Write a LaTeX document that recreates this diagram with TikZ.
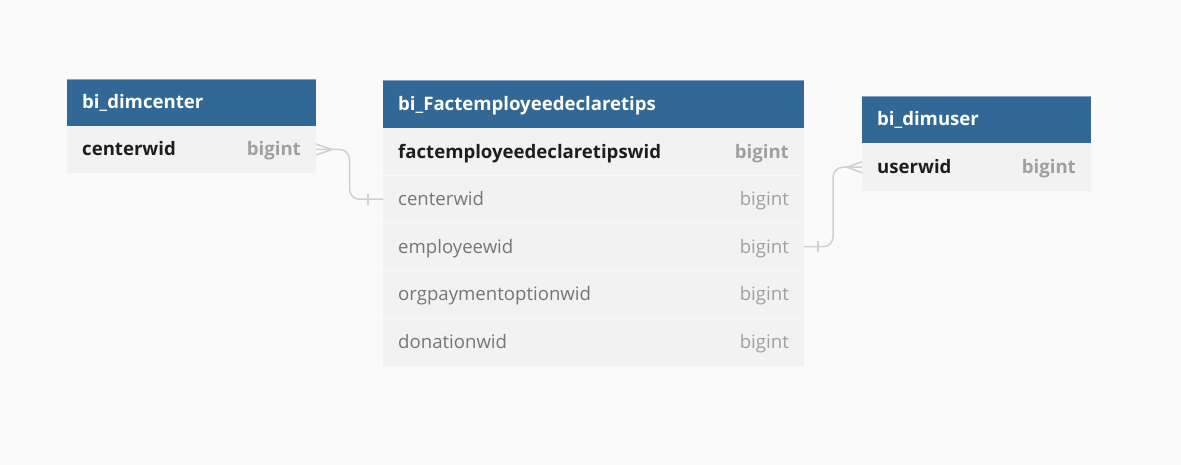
\documentclass[tikz,border=0pt]{standalone}
\usepackage{fontspec}
\setmainfont{Open Sans}
\usetikzlibrary{calc}
\definecolor{bg}{RGB}{250,250,250}
\definecolor{hdrblue}{RGB}{49,104,150}
\definecolor{hdrtop}{RGB}{125,162,196}
\definecolor{rowbg}{RGB}{242,242,242}
\definecolor{rowsep}{RGB}{248,248,248}
\definecolor{keytxt}{RGB}{30,30,30}
\definecolor{fldtxt}{RGB}{118,118,118}
\definecolor{typtxt}{RGB}{160,160,160}
\definecolor{conn}{RGB}{208,208,208}
\begin{document}
\begin{tikzpicture}[x=1pt,y=-1pt,
  hdrbox/.style={fill=hdrblue, inner sep=0pt, outer sep=0pt, anchor=north west},
  rowbox/.style={fill=rowbg, inner sep=0pt, outer sep=0pt, anchor=north west},
  hdrtxt/.style={anchor=base west, inner sep=0pt, text=white, font=\fontsize{18.6}{22}\selectfont\bfseries},
  keyname/.style={anchor=base west, inner sep=0pt, text=keytxt, font=\fontsize{18.6}{22}\selectfont\bfseries},
  keytype/.style={anchor=base east, inner sep=0pt, text=typtxt, font=\fontsize{18.6}{22}\selectfont\bfseries},
  fldname/.style={anchor=base west, inner sep=0pt, text=fldtxt, font=\fontsize{18.6}{22}\selectfont},
  fldtype/.style={anchor=base east, inner sep=0pt, text=typtxt, font=\fontsize{18.6}{22}\selectfont},
  topline/.style={draw=hdrtop, line width=1pt},
  sepline/.style={draw=rowsep, line width=1pt},
  connector/.style={draw=conn, line width=1.5pt, rounded corners=10pt},
  relmark/.style={draw=conn, line width=1.5pt}
]
\useasboundingbox[fill=bg] (0,0) rectangle (1181,465);

% ---------- left table: bi_dimcenter ----------
\node[hdrbox, minimum width=249pt, minimum height=47pt] (hl) at (67,79) {};
\node[rowbox, minimum width=249pt, minimum height=47pt] (lc) at (67,126) {};
\draw[topline] ($(hl.north west)+(0,0.5)$) -- ($(hl.north east)+(0,0.5)$);
\node[hdrtxt] (hlt) at ($(hl.west)+(15,6)$) {bi\_dimcenter};
\node[keyname] (lcn) at ($(lc.west)+(15,6.5)$) {centerwid};
\node[keytype] (lct) at ($(lc.east)+(-15,6.5)$) {bigint};

% ---------- middle table: bi_Factemployeedeclaretips ----------
\node[hdrbox, minimum width=421pt, minimum height=47.5pt] (hm) at (383,80.5) {};
\node[rowbox, minimum width=421pt, minimum height=47.5pt] (mk) at (383,128) {};
\node[rowbox, minimum width=421pt, minimum height=47.5pt] (mc) at (383,175.5) {};
\node[rowbox, minimum width=421pt, minimum height=47.5pt] (me) at (383,223) {};
\node[rowbox, minimum width=421pt, minimum height=47.5pt] (mo) at (383,270.5) {};
\node[rowbox, minimum width=421pt, minimum height=47.5pt] (md) at (383,318) {};
\draw[topline] ($(hm.north west)+(0,0.5)$) -- ($(hm.north east)+(0,0.5)$);
\draw[sepline] (mc.north west) -- (mc.north east);
\draw[sepline] (me.north west) -- (me.north east);
\draw[sepline] (mo.north west) -- (mo.north east);
\draw[sepline] (md.north west) -- (md.north east);
\node[hdrtxt] (hmt) at ($(hm.west)+(15,6)$) {bi\_Factemployeedeclaretips};
\node[keyname] (mkn) at ($(mk.west)+(15,6.5)$) {factemployeedeclaretipswid};
\node[keytype] (mkt) at ($(mk.east)+(-15,6.5)$) {bigint};
\node[fldname] (mcn) at ($(mc.west)+(15,6.5)$) {centerwid};
\node[fldtype] (mct) at ($(mc.east)+(-15,6.5)$) {bigint};
\node[fldname] (men) at ($(me.west)+(15,6.5)$) {employeewid};
\node[fldtype] (met) at ($(me.east)+(-15,6.5)$) {bigint};
\node[fldname] (mon) at ($(mo.west)+(15,6.5)$) {orgpaymentoptionwid};
\node[fldtype] (mot) at ($(mo.east)+(-15,6.5)$) {bigint};
\node[fldname] (mdn) at ($(md.west)+(15,6.5)$) {donationwid};
\node[fldtype] (mdt) at ($(md.east)+(-15,6.5)$) {bigint};

% ---------- right table: bi_dimuser ----------
\node[hdrbox, minimum width=229pt, minimum height=47.5pt] (hr) at (862,96) {};
\node[rowbox, minimum width=229pt, minimum height=47.5pt] (ru) at (862,143.5) {};
\draw[topline] ($(hr.north west)+(0,0.5)$) -- ($(hr.north east)+(0,0.5)$);
\node[hdrtxt] (hrt) at ($(hr.west)+(15,6)$) {bi\_dimuser};
\node[keyname] (run) at ($(ru.west)+(15,6.5)$) {userwid};
\node[keytype] (rut) at ($(ru.east)+(-15,6.5)$) {bigint};

% ---------- connectors ----------
\coordinate (m1) at ($(lc.east)!0.5!(mc.west)$);
\draw[connector] (lc.east) -| (m1) |- (mc.west);
\draw[relmark] ($(lc.east)+(0,-5.5)$) -- ($(lc.east)+(16,0)$) -- ($(lc.east)+(0,5.5)$);
\draw[relmark] ($(mc.west)+(-15,-5.5)$) -- ($(mc.west)+(-15,5.5)$);

\coordinate (m2) at ($(me.east)!0.5!(ru.west)$);
\draw[connector] (me.east) -| (m2) |- (ru.west);
\draw[relmark] ($(me.east)+(14,-5.5)$) -- ($(me.east)+(14,5.5)$);
\draw[relmark] ($(ru.west)+(0,-5.5)$) -- ($(ru.west)+(-15,0)$) -- ($(ru.west)+(0,5.5)$);
\end{tikzpicture}
\end{document}
